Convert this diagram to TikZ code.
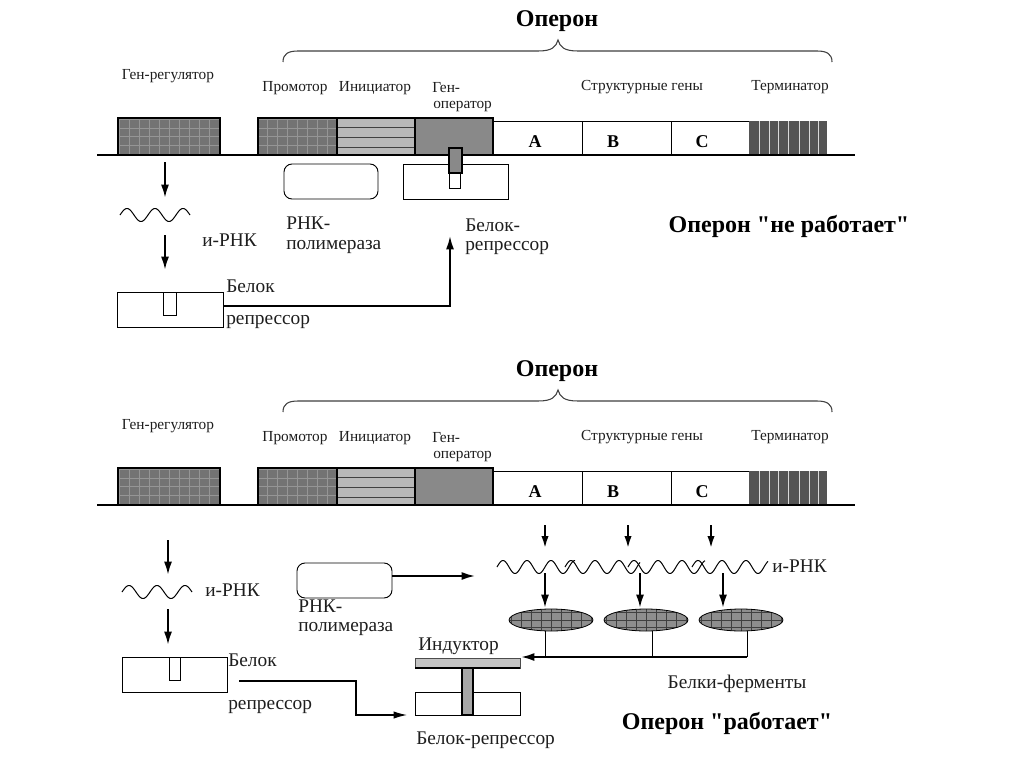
\documentclass[tikz,border=0pt]{standalone}
\usepackage{fontspec}
\setmainfont{Liberation Serif}[Ligatures=TeXOff]
\usetikzlibrary{arrows.meta,shapes.geometric}
\definecolor{regfill}{HTML}{737373}
\definecolor{reggrid}{HTML}{959595}
\definecolor{initfill}{HTML}{B8B8B8}
\definecolor{operfill}{HTML}{898989}
\definecolor{termfill}{HTML}{545454}
\definecolor{ellfill}{HTML}{8E8E8E}
\definecolor{indfill}{HTML}{C4C4C4}
\definecolor{txt}{HTML}{1E1E1E}
\newcommand\fsm{\fontsize{11.5}{13}\selectfont}
\newcommand\flg{\fontsize{14.5}{17}\selectfont}
\newcommand\fbg{\fontsize{18}{22}\selectfont\bfseries}
\newcommand\bxn[6]{\node[#6, inner sep=0pt, outer sep=0pt, minimum width={(#4-#2)*0.75pt}, minimum height={(#5-#3)*0.75pt}] (#1) at ({(#2+#4)/2},{(#3+#5)/2}) {};}
\newcommand\wavy[4]{\draw[wavest] plot[domain=#1:#2, samples=90, smooth] (\x, {#3 - 6.5*cos((\x-#1-#4/4)/#4*360)});}
\tikzset{
  thickbox/.style={draw=black, line width=2.2pt},
  thinbox/.style={draw=black, line width=0.7pt},
  gridfill/.style 2 args={fill=#1, path picture={\draw[#2, line width=0.45pt, xstep=7.5pt, ystep=6.5pt] (path picture bounding box.south west) grid (path picture bounding box.north east);}},
  ellgrid/.style={fill=ellfill, path picture={\draw[black!75, line width=0.45pt, xstep=7.5pt, ystep=5.5pt] (path picture bounding box.south west) grid (path picture bounding box.north east);}},
  lab/.style={inner sep=0pt, text=txt, font=\fsm},
  big/.style={inner sep=0pt, text=txt, font=\flg},
  title/.style={inner sep=0pt, text=black, font=\fbg},
  letter/.style={inner sep=0pt, text=black, font=\fontsize{13.5}{15}\selectfont\bfseries},
  arr/.style={-{Latex[length=10pt,width=6pt]}, line width=1.6pt},
  wavest/.style={line width=0.75pt, black},
  brace/.style={line width=0.8pt, black!75},
  dna/.style={line width=2.2pt, black},
  stripe/.style={line width=0.7pt, black!75},
}
\newcommand\operonrow{%
  \draw[brace] (283,62) .. controls (283,54) and (288,51) .. (298,51) -- (538,51) .. controls (552,51) and (556,47) .. (558,40) .. controls (560,47) and (564,51) .. (578,51) -- (817,51) .. controls (827,51) and (832,54) .. (832,62);
  \node[title] (op) at (557,21) {Оперон};
  \node[lab] (lreg) at (168,76) {Ген-регулятор};
  \node[lab] (lprom) at (295,88) {Промотор};
  \node[lab] (linit) at (375,88) {Инициатор};
  \node[lab, anchor=west] (loper1) at (432,88) {Ген-};
  \node[lab, anchor=west] (loper2) at (433,107) {оператор};
  \node[lab] (lstr) at (642,87) {Структурные гены};
  \node[lab] (lterm) at (790,87) {Терминатор};
  \bxn{A}{493}{121}{582}{155}{thinbox}
  \bxn{B}{582}{121}{671}{155}{thinbox}
  \bxn{C}{671}{121}{749}{155}{thinbox}
  \node[letter] (lA) at (535,142) {A};
  \node[letter] (lB) at (613,142) {B};
  \node[letter] (lC) at (702,142) {C};
  \bxn{term}{749}{121}{827}{155}{fill=termfill}
  \foreach \xx in {759,769,778,788,799,809,818} \draw[white!85!black, line width=0.7pt] (\xx,121) -- (\xx,155);
  \draw[dna] (97,155) -- (855,155);
  \bxn{reg}{118}{118}{220}{155}{thickbox, gridfill={regfill}{reggrid}}
  \bxn{prom}{258}{118}{337}{155}{thickbox, gridfill={regfill}{reggrid}}
  \bxn{init}{337}{118}{415}{155}{thickbox, fill=initfill}
  \draw[stripe] (338,127) -- (414,127);
  \draw[stripe] (338,137) -- (414,137);
  \draw[stripe] (338,147) -- (414,147);
  \bxn{oper}{415}{118}{493}{155}{thickbox, fill=operfill}
}
\begin{document}
\begin{tikzpicture}[x=0.75pt,y=-0.75pt]
\useasboundingbox[fill=white] (0,0) rectangle (1024,767);
% ---------- upper scheme ----------
\begin{scope}[name prefix=t-]
  \operonrow
\end{scope}
\bxn{t-rep}{403}{164}{508}{199}{thinbox}
\bxn{t-notch}{449}{173}{460}{188}{thinbox, fill=white}
\bxn{t-plug}{449}{148}{462}{173}{draw=black, line width=2pt, fill=operfill}
\node[draw=black, line width=0.7pt, rounded corners=6pt, inner sep=0pt, minimum width={94*0.75pt}, minimum height={35*0.75pt}] (t-poly) at (331,181.5) {};
\wavy{120}{190}{215}{28}
\node[big, anchor=west] (t-mrna) at (202,240) {и-РНК};
\bxn{t-prot}{117}{292}{223}{327}{thinbox}
\draw[line width=0.7pt] (163,292) -- (163,315) -- (176,315) -- (176,292);
\node[big, anchor=west] (t-lb1) at (226,286) {Белок};
\node[big, anchor=west] (t-lb2) at (226,322) {репрессор};
\node[big, anchor=west] (t-lr1) at (465,225) {Белок-};
\node[big, anchor=west] (t-lr2) at (465,248) {репрессор};
\node[big, anchor=west] (t-lp1) at (286,223) {РНК-};
\node[big, anchor=west] (t-lp2) at (286,247) {полимераза};
\node[title] (t-state) at (789,226) {Оперон "не работает"};
\coordinate (ta1s) at (165,162); \coordinate (ta1e) at (165,198);
\coordinate (ta2s) at (165,235); \coordinate (ta2e) at (165,270);
\coordinate (tr1) at (223,306); \coordinate (tr2) at (450,236);
\draw[arr] (ta1s) -- (ta1e);
\draw[arr] (ta2s) -- (ta2e);
\draw[line width=1.4pt, -{Latex[length=10pt,width=6pt]}] (tr1) -| (tr2);
% ---------- lower scheme ----------
\begin{scope}[yshift=-262.5pt, name prefix=b-]
  \operonrow
\end{scope}
\wavy{122}{192}{592}{28}
\node[big, anchor=west] (b-mrna) at (205,590) {и-РНК};
\bxn{b-prot}{122}{657}{227}{692}{thinbox}
\draw[line width=0.7pt] (169,657) -- (169,680) -- (180,680) -- (180,657);
\node[big, anchor=west] (b-lb1) at (228,660) {Белок};
\node[big, anchor=west] (b-lb2) at (228,707) {репрессор};
\node[draw=black, line width=0.7pt, rounded corners=6pt, inner sep=0pt, minimum width={95*0.75pt}, minimum height={35*0.75pt}] (b-poly) at (344.5,580.5) {};
\node[big, anchor=west] (b-lp1) at (298,606) {РНК-};
\node[big, anchor=west] (b-lp2) at (298,629) {полимераза};
% inducer + repressor
\bxn{b-trep}{415}{692}{520}{715}{thinbox}
\bxn{b-ind}{415}{658}{520}{668}{fill=indfill, draw=black!70, line width=0.6pt}
\draw[line width=1.6pt] (415,668) -- (520,668);
\bxn{b-stem}{462}{668}{473}{715}{fill=indfill!85!black, draw=black, line width=0.9pt}
\node[big, anchor=west] (b-lind) at (418,646) {Индуктор};
\node[big, anchor=west] (b-lbr) at (416,740) {Белок-репрессор};
% long mRNA
\wavy{497}{575}{567}{24}
\wavy{565}{640}{567}{24}
\wavy{628}{705}{567}{24}
\wavy{692}{768}{567}{24}
\node[big, anchor=west] (b-mrna2) at (772,566) {и-РНК};
% enzymes
\node[ellipse, draw=black, line width=0.6pt, ellgrid, inner sep=0pt, minimum width={84*0.75pt}, minimum height={22*0.75pt}] (b-e1) at (551,620) {};
\node[ellipse, draw=black, line width=0.6pt, ellgrid, inner sep=0pt, minimum width={84*0.75pt}, minimum height={22*0.75pt}] (b-e2) at (646,620) {};
\node[ellipse, draw=black, line width=0.6pt, ellgrid, inner sep=0pt, minimum width={84*0.75pt}, minimum height={22*0.75pt}] (b-e3) at (741,620) {};
\node[big] (b-lenz) at (737,684) {Белки-ферменты};
\node[title] (b-state) at (727,723) {Оперон "работает"};
% connectors
\coordinate (ba1s) at (168,540); \coordinate (ba1e) at (168,575);
\coordinate (ba2s) at (168,609); \coordinate (ba2e) at (168,645);
\draw[arr] (ba1s) -- (ba1e);
\draw[arr] (ba2s) -- (ba2e);
\coordinate (ba3s) at (239,681); \coordinate (bk) at (356,681); \coordinate (ba3e) at (407,715);
\draw[line width=0.9pt, -{Latex[length=10pt,width=5.5pt]}] (ba3s) -- (bk) |- (ba3e);
\coordinate (bp1) at (392,576); \coordinate (bp2) at (475,576);
\draw[line width=1.4pt, -{Latex[length=10pt,width=6pt]}] (bp1) -- (bp2);
\foreach \xx in {545,628,711} {\draw[line width=1.4pt, -{Latex[length=9pt,width=5.5pt]}] (\xx,525) -- (\xx,548);}
\foreach \xx in {545,640,723} {\draw[arr] (\xx,573) -- (\xx,608);}
\draw[line width=0.6pt] (545,631) -- (545,657);
\draw[line width=0.6pt] (652,631) -- (652,657);
\draw[line width=0.6pt] (747,631) -- (747,657);
\coordinate (bf1) at (747,657); \coordinate (bf2) at (521,657);
\draw[line width=1.6pt, -{Latex[length=10pt,width=6pt]}] (bf1) -- (bf2);
\end{tikzpicture}
\end{document}
